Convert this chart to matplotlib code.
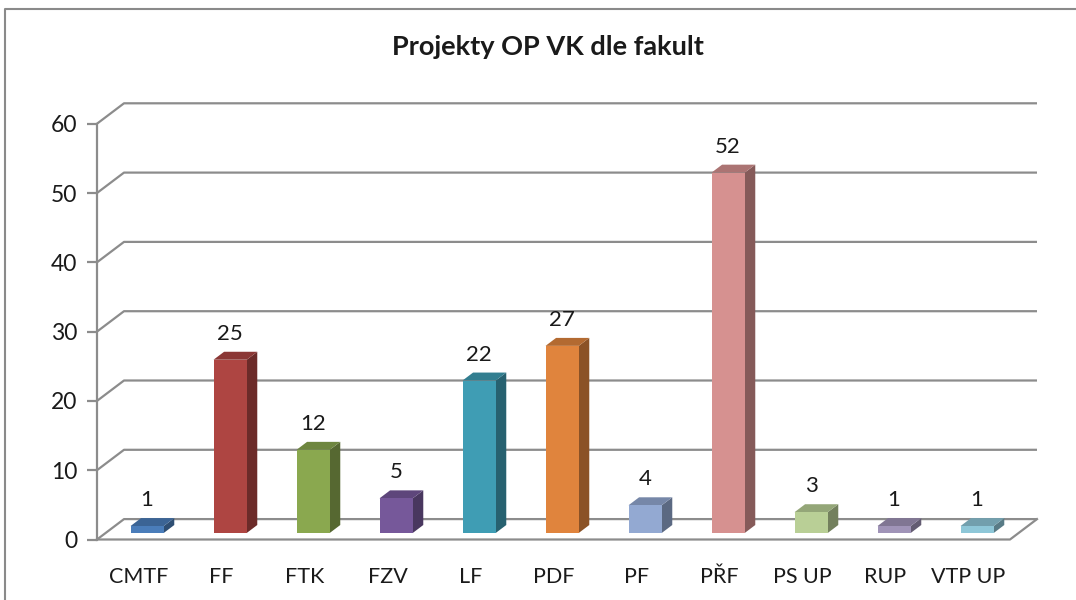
import matplotlib
matplotlib.use('Agg')
import matplotlib.pyplot as plt
from matplotlib.patches import Polygon
from matplotlib.lines import Line2D
import numpy as np
from matplotlib.colors import to_rgb

categories = ['CMTF', 'FF', 'FTK', 'FZV', 'LF', 'PDF', 'PF', 'PŘF', 'PS UP', 'RUP', 'VTP UP']
values = [1, 25, 12, 5, 22, 27, 4, 52, 3, 1, 1]
colors = ['#4A7DBA', '#AE4542', '#8AA84F', '#76589A', '#3F9DB4', '#E0843D',
          '#93A9D2', '#D69190', '#B9CF96', '#A094B8', '#8EC7D8']
yticks = [0, 10, 20, 30, 40, 50, 60]

plt.rcParams['font.family'] = ['Lato', 'DejaVu Sans']

W, H = 1076, 600
fig = plt.figure(figsize=(W / 100, H / 100), dpi=100)

# pixel geometry of the plot area
sx = 83.0       # px per category
sy = 6.93       # px per value unit
left_px, right_px = 97, 1046
bottom_px, top_px = 539.5, 95
ax = fig.add_axes([left_px / W, (H - bottom_px) / H,
                   (right_px - left_px) / W, (bottom_px - top_px) / H])
ax.set_xlim(-0.5, -0.5 + (right_px - left_px) / sx)
ax.set_ylim(0, (bottom_px - top_px) / sy)

# depth of the 3D floor in data units
Dx, Dy = 27 / sx, 20.4 / sy
n = len(categories)
xend = n - 0.5
grid_c = '#8c8c8c'

# walls: gridlines
for v in yticks:
    ax.plot([-0.5, -0.5 + Dx, xend + Dx], [v, v + Dy, v + Dy],
            color=grid_c, lw=1.6, solid_capstyle='butt', zorder=1, clip_on=False)
# floor front edge and right edge
ax.plot([-0.5, xend, xend + Dx], [0, 0, Dy], color=grid_c, lw=1.6, zorder=1, clip_on=False)

# bars
f0, f1 = 0.32, 0.71
bw = 0.4
for k, (v, c) in enumerate(zip(values, colors)):
    base = np.array(to_rgb(c))
    top_c = base * 0.8
    side_c = base * 0.62
    x0 = k - bw / 2 + f0 * Dx
    x1 = k + bw / 2 + f0 * Dx
    y0 = f0 * Dy
    y1 = y0 + v
    ddx, ddy = (f1 - f0) * Dx, (f1 - f0) * Dy
    ax.add_patch(Polygon([(x1, y0), (x1 + ddx, y0 + ddy), (x1 + ddx, y1 + ddy), (x1, y1)],
                         closed=True, facecolor=side_c, edgecolor='none', zorder=3))
    ax.add_patch(Polygon([(x0, y1), (x1, y1), (x1 + ddx, y1 + ddy), (x0 + ddx, y1 + ddy)],
                         closed=True, facecolor=top_c, edgecolor='none', zorder=3))
    ax.add_patch(Polygon([(x0, y0), (x1, y0), (x1, y1), (x0, y1)],
                         closed=True, facecolor=base, edgecolor='none', zorder=4))
    ax.text((x0 + x1) / 2, y1 + 3.75, str(v), ha='center', va='center',
            fontsize=16, color='#1a1a1a', zorder=5)

# axes styling
for s in ['top', 'right', 'bottom']:
    ax.spines[s].set_visible(False)
ax.spines['left'].set_color(grid_c)
ax.spines['left'].set_linewidth(1.6)
ax.spines['left'].set_bounds(0, 60)
ax.set_yticks(yticks)
ax.tick_params(axis='y', length=7, width=1.6, color=grid_c, labelsize=16.5,
               labelcolor='#1a1a1a', pad=7)
ax.set_xticks(range(n))
ax.set_xticklabels(categories)
ax.tick_params(axis='x', length=0, labelsize=15.5, labelcolor='#1a1a1a', pad=20)
ax.patch.set_visible(False)

fig.text(548 / W, 1 - 47 / H, 'Projekty OP VK dle fakult', ha='center', va='center',
         fontsize=19.5, fontweight='bold', color='#1a1a1a')

# chart area border (left and top only visible)
fig.add_artist(Line2D([4.5 / W, 4.5 / W, 1.0], [0.0, 1 - 8.5 / H, 1 - 8.5 / H],
                      transform=fig.transFigure, color='#8a8a8a', lw=1.5))

fig.savefig('out.png', dpi=100)
